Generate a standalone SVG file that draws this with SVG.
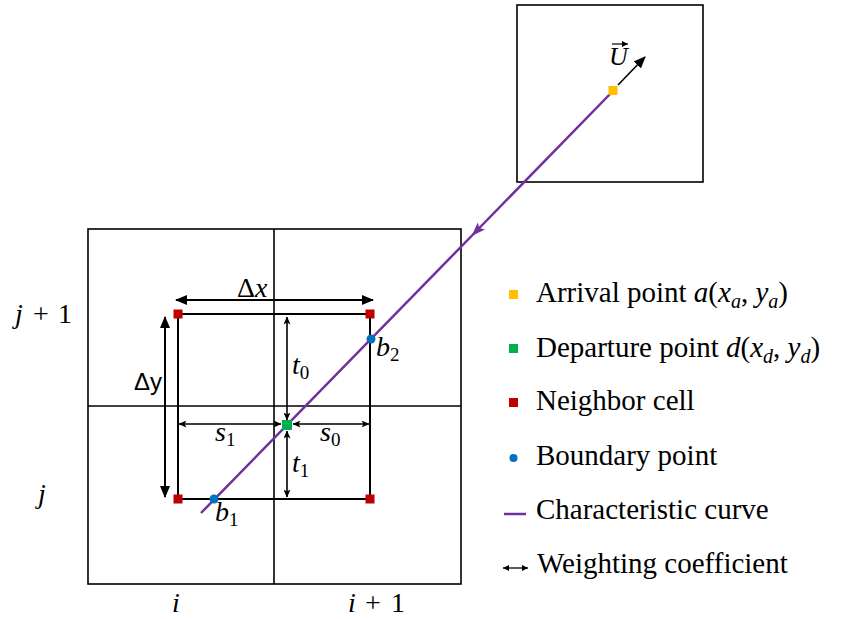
<svg xmlns="http://www.w3.org/2000/svg" width="853" height="619" viewBox="0 0 853 619">
<defs>
<style>
.box{fill:none;stroke:#000;stroke-width:1.6}
.grid{fill:none;stroke:#000;stroke-width:1.6}
.inner{fill:none;stroke:#000;stroke-width:2}
.dim{fill:none;stroke:#000;stroke-width:1.6}
.dimb{fill:none;stroke:#000;stroke-width:2}
.curve{fill:none;stroke:#7030A0;stroke-width:2.5}
.lab{font-family:'Liberation Serif','Times New Roman',serif;font-size:28px;fill:#000}
.m{font-style:italic}
.sub{font-size:19px}
.leg{font-family:'Liberation Serif','Times New Roman',serif;font-size:29px;fill:#000}
.lsub{font-size:20px}
.red{fill:#C00000}
.grn{fill:#00B050}
.yel{fill:#FFC000}
.blu{fill:#0070C0}
</style>
<marker id="big" viewBox="0 0 12 10" refX="11" refY="5" markerWidth="12" markerHeight="10" markerUnits="userSpaceOnUse" orient="auto-start-reverse">
<path d="M0,0 L12,5 L0,10 Z" fill="#000"/>
</marker>
<marker id="small" viewBox="0 0 8 7" refX="7.5" refY="3.5" markerWidth="8" markerHeight="7" markerUnits="userSpaceOnUse" orient="auto-start-reverse">
<path d="M0,0 L8,3.5 L0,7 L2,3.5 Z" fill="#000"/>
</marker>
<marker id="purp" viewBox="0 0 14 10" refX="12" refY="5" markerWidth="14" markerHeight="10" markerUnits="userSpaceOnUse" orient="auto">
<path d="M0,0 L14,5 L0,10 L3,5 Z" fill="#7030A0"/>
</marker>
<marker id="uarr" viewBox="0 0 12 10" refX="11" refY="5" markerWidth="12" markerHeight="10" markerUnits="userSpaceOnUse" orient="auto">
<path d="M0,0 L12,5 L0,10 Z" fill="#000"/>
</marker>
<marker id="tiny" viewBox="0 0 6 6" refX="6" refY="3" markerWidth="6" markerHeight="6" markerUnits="userSpaceOnUse" orient="auto-start-reverse">
<path d="M0,0 L6,3 L0,6 Z" fill="#000"/>
</marker>
</defs>

<g id="arrival-cell">
<rect class="box" x="517" y="5" width="186" height="177"/>
</g>

<g id="grid">
<rect class="grid" x="88" y="229" width="373" height="355"/>
<line class="grid" x1="274" y1="229" x2="274" y2="584"/>
<line class="grid" x1="88" y1="406" x2="461" y2="406"/>
</g>

<g id="stencil">
<rect class="inner" x="178" y="314" width="192" height="185"/>
</g>

<g id="connectors">
<path class="curve" d="M613,91 L473,234.5 L201,513" marker-mid="url(#purp)"/>
<line class="dim" x1="618" y1="85" x2="645" y2="57" marker-end="url(#uarr)"/>
<line class="dimb" x1="176" y1="300" x2="373" y2="300" marker-start="url(#big)" marker-end="url(#big)"/>
<line class="dimb" x1="165" y1="317" x2="165" y2="497" marker-start="url(#big)" marker-end="url(#big)"/>
<line class="dim" x1="287" y1="317" x2="287" y2="420" marker-start="url(#small)" marker-end="url(#small)"/>
<line class="dim" x1="287" y1="431" x2="287" y2="497" marker-start="url(#small)" marker-end="url(#small)"/>
<line class="dim" x1="179" y1="424" x2="281" y2="424" marker-start="url(#small)" marker-end="url(#small)"/>
<line class="dim" x1="293" y1="424" x2="369" y2="424" marker-start="url(#small)" marker-end="url(#small)"/>
</g>

<g id="neighbors">
<rect class="red" x="173.5" y="309.5" width="9" height="9"/>
<rect class="red" x="365.5" y="309.5" width="9" height="9"/>
<rect class="red" x="173.5" y="494.5" width="9" height="9"/>
<rect class="red" x="365.5" y="494.5" width="9" height="9"/>
</g>

<g id="arrival-point">
<rect class="yel" x="608.5" y="86" width="9" height="9"/>
</g>

<g id="departure-point">
<rect class="grn" x="282" y="420" width="10" height="10"/>
</g>

<g id="boundary-points">
<circle class="blu" cx="371" cy="339" r="4.5"/>
<circle class="blu" cx="214" cy="499" r="4.5"/>
</g>

<g id="labels">
<text class="lab" x="609" y="65" style="font-size:26px"><tspan class="m">U</tspan></text>
<line x1="612" y1="44" x2="628" y2="44" stroke="#000" stroke-width="1.2" marker-end="url(#tiny)"/>
<text class="lab" x="237" y="297">Δ<tspan class="m">x</tspan></text>
<text class="lab" x="134" y="390" style="font-family:'Liberation Sans',Arial,sans-serif;font-size:24px">Δy</text>
<text class="lab" x="292" y="374"><tspan class="m">t</tspan><tspan class="sub" dy="5">0</tspan></text>
<text class="lab" x="292" y="472"><tspan class="m">t</tspan><tspan class="sub" dy="5">1</tspan></text>
<text class="lab" x="215" y="441"><tspan class="m">s</tspan><tspan class="sub" dy="5">1</tspan></text>
<text class="lab" x="320" y="441"><tspan class="m">s</tspan><tspan class="sub" dy="5">0</tspan></text>
<text class="lab" x="376" y="356"><tspan class="m">b</tspan><tspan class="sub" dy="5">2</tspan></text>
<text class="lab" x="215" y="521"><tspan class="m">b</tspan><tspan class="sub" dy="5">1</tspan></text>
<text class="lab" x="15" y="323"><tspan class="m">j</tspan><tspan x="33">+</tspan><tspan x="58">1</tspan></text>
<text class="lab" x="38" y="503"><tspan class="m">j</tspan></text>
<text class="lab" x="172" y="612"><tspan class="m">i</tspan></text>
<text class="lab" x="348" y="612"><tspan class="m">i</tspan><tspan x="365">+</tspan><tspan x="391">1</tspan></text>
</g>

<g id="legend">
<rect class="yel" x="509" y="290" width="9" height="9"/>
<text class="leg" x="536" y="302">Arrival point <tspan class="m">a</tspan>(<tspan class="m">x</tspan><tspan class="lsub m" dy="6">a</tspan><tspan dy="-6">, </tspan><tspan class="m">y</tspan><tspan class="lsub m" dy="6">a</tspan><tspan dy="-6">)</tspan></text>
<rect class="grn" x="509" y="344" width="9" height="9"/>
<text class="leg" x="536" y="357">Departure point <tspan class="m">d</tspan>(<tspan class="m">x</tspan><tspan class="lsub m" dy="6">d</tspan><tspan dy="-6">, </tspan><tspan class="m">y</tspan><tspan class="lsub m" dy="6">d</tspan><tspan dy="-6">)</tspan></text>
<rect class="red" x="509" y="398" width="9" height="9"/>
<text class="leg" x="536" y="410">Neighbor cell</text>
<circle class="blu" cx="513.5" cy="458" r="4"/>
<text class="leg" x="536" y="465">Boundary point</text>
<line x1="504" y1="514" x2="526" y2="514" stroke="#7030A0" stroke-width="2.5"/>
<text class="leg" x="536" y="519">Characteristic curve</text>
<line x1="503" y1="568" x2="528" y2="568" stroke="#000" stroke-width="1.3" marker-start="url(#tiny)" marker-end="url(#tiny)"/>
<text class="leg" x="537" y="573">Weighting coefficient</text>
</g>
</svg>
